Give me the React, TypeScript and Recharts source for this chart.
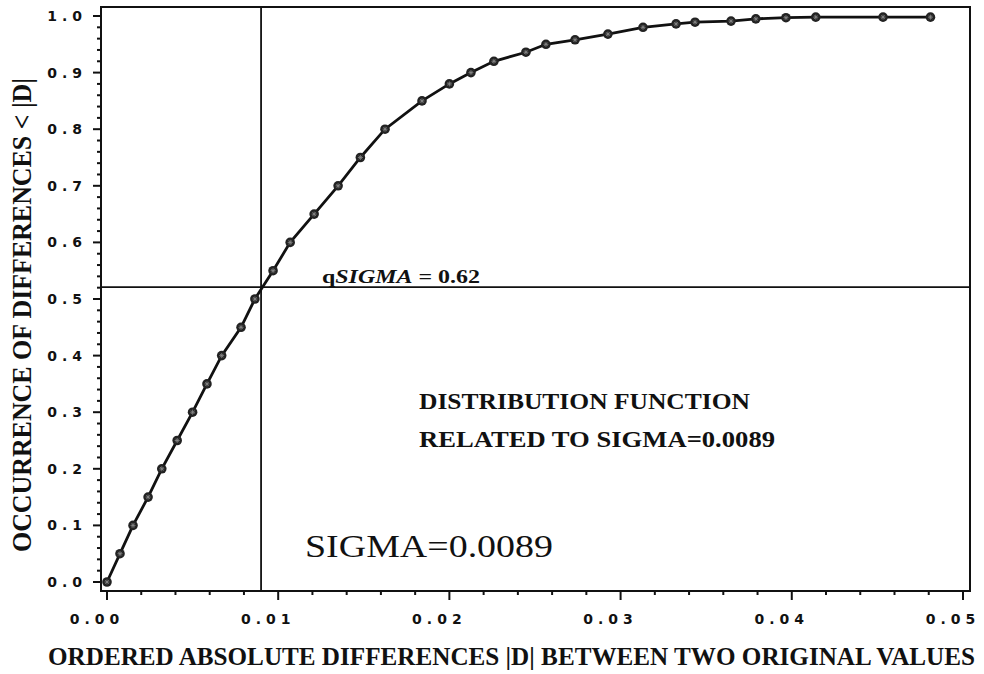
import { ComposedChart, Line, XAxis, YAxis, ReferenceLine, ReferenceArea, Customized } from 'recharts'

// ordered absolute differences |D| and their cumulative occurrence
const diffs = [0, 0.00076, 0.00152, 0.0024, 0.0032, 0.0041, 0.005, 0.00584, 0.0067, 0.00783, 0.00864, 0.0097, 0.0107, 0.0121, 0.0135, 0.0148, 0.01624, 0.0184, 0.02, 0.02126, 0.0226, 0.02447, 0.02564, 0.02734, 0.02926, 0.03131, 0.03324, 0.03435, 0.03645, 0.0379, 0.03966, 0.0414, 0.04533, 0.0481]
const occurrence = [0, 0.05, 0.1, 0.15, 0.2, 0.25, 0.3, 0.35, 0.4, 0.45, 0.5, 0.55, 0.6, 0.65, 0.7, 0.75, 0.8, 0.85, 0.88, 0.9, 0.92, 0.936, 0.95, 0.958, 0.968, 0.98, 0.986, 0.989, 0.991, 0.995, 0.997, 0.998, 0.998, 0.998]

const xMajor = [0, 0.01, 0.02, 0.03, 0.04, 0.05]
const xTickLabels = ['0.00', '0.01', '0.02', '0.03', '0.04', '0.05']
const yMajor = [0, 0.1, 0.2, 0.3, 0.4, 0.5, 0.6, 0.7, 0.8, 0.9, 1.0]
const yTickLabels = ['0.0', '0.1', '0.2', '0.3', '0.4', '0.5', '0.6', '0.7', '0.8', '0.9', '1.0']

const sigmaX = 0.009
const qSigmaY = 0.521

const xDomain = [-0.00035, 0.05041]
const yDomain = [-0.0159, 1.0159]

// minor ticks: 4 between each pair of majors
const minorsOf = (majors: number[]) => {
  const out: number[] = []
  for (let i = 0; i < majors.length - 1; i++) {
    const step = (majors[i + 1] - majors[i]) / 5
    for (let k = 1; k < 5; k++) out.push(+(majors[i] + step * k).toFixed(5))
  }
  return out
}
const xTicks = [...xMajor, ...minorsOf(xMajor)].sort((a, b) => a - b)
const yTicks = [...yMajor, ...minorsOf(yMajor)].sort((a, b) => a - b)

const data = diffs.map((d, i) => ({ d, occ: occurrence[i] }))

const INK = '#111'
const tickFont = { fontFamily: '"DejaVu Sans", sans-serif', fontWeight: 700, fontSize: 14, letterSpacing: 5 }
const serif = '"Liberation Serif", "DejaVu Serif", serif'

const XTick = (p: any) => {
  const i = xMajor.findIndex(m => Math.abs(m - p.payload.value) < 1e-7)
  return (
    <g>
      <line x1={p.x} x2={p.x} y1={p.y} y2={p.y + (i >= 0 ? 9 : 4)} stroke={INK} strokeWidth={2} />
      {i >= 0 && <text x={p.x - 10} y={p.y + 33} textAnchor="middle" fill={INK} style={tickFont}>{xTickLabels[i]}</text>}
    </g>
  )
}

const YTick = (p: any) => {
  const i = yMajor.findIndex(m => Math.abs(m - p.payload.value) < 1e-7)
  return (
    <g>
      <line x1={p.x} x2={p.x - (i >= 0 ? 8 : 4)} y1={p.y} y2={p.y} stroke={INK} strokeWidth={2} />
      {i >= 0 && <text x={p.x - 14} y={p.y + 5} textAnchor="end" fill={INK} style={tickFont}>{yTickLabels[i]}</text>}
    </g>
  )
}

const StarDot = (p: any) => {
  const { cx, cy } = p
  if (cx == null || cy == null) return null
  return (
    <g>
      <circle cx={cx} cy={cy} r={4.8} fill="#222" />
      <path d={`M${cx - 2.5},${cy} h5 M${cx},${cy - 2.5} v5 M${cx - 1.8},${cy - 1.8} l3.6,3.6 M${cx - 1.8},${cy + 1.8} l3.6,-3.6`} stroke="#8a8a8a" strokeWidth={0.8} />
    </g>
  )
}

const Texts = () => (
  <g fill={INK}>
    <text x={322} y={283} fontFamily={serif} fontWeight={700} fontSize={18} textLength={158} lengthAdjust="spacingAndGlyphs">
      q<tspan fontStyle="italic">SIGMA</tspan> = 0.62
    </text>
    <text x={419} y={409} fontFamily={serif} fontWeight={700} fontSize={23} textLength={331} lengthAdjust="spacingAndGlyphs">DISTRIBUTION FUNCTION</text>
    <text x={419} y={447} fontFamily={serif} fontWeight={700} fontSize={23} textLength={356} lengthAdjust="spacingAndGlyphs">RELATED TO SIGMA=0.0089</text>
    <text x={305} y={557} fontFamily={serif} fontSize={32} textLength={248} lengthAdjust="spacingAndGlyphs">SIGMA=0.0089</text>
    <text x={48} y={665} fontFamily={serif} fontWeight={700} fontSize={25} textLength={927} lengthAdjust="spacingAndGlyphs">ORDERED ABSOLUTE DIFFERENCES |D| BETWEEN TWO ORIGINAL VALUES</text>
    <text x={31} y={315} transform="rotate(-90, 31, 315)" textAnchor="middle" fontFamily={serif} fontWeight={700} fontSize={27} textLength={474} lengthAdjust="spacingAndGlyphs">OCCURRENCE OF DIFFERENCES &lt; |D|</text>
  </g>
)

export default function App() {
  return (
    <div style={{ width: 984, height: 674, background: '#fff' }}>
      <style>{'body{margin:0}'}</style>
      <ComposedChart width={984} height={674} data={data} margin={{ top: 7, right: 14, bottom: 0, left: 41 }}>
        <XAxis dataKey="d" type="number" domain={xDomain} ticks={xTicks} interval={0}
          axisLine={false} tickLine={false} tickSize={0} tickMargin={0} height={83} tick={<XTick />} />
        <YAxis type="number" domain={yDomain} ticks={yTicks} interval={0}
          axisLine={false} tickLine={false} tickSize={0} tickMargin={0} width={60} tick={<YTick />} />
        <ReferenceLine x={sigmaX} stroke={INK} strokeWidth={1.8} />
        <ReferenceLine y={qSigmaY} stroke={INK} strokeWidth={1.6} />
        <Line dataKey="occ" type="linear" stroke={INK} strokeWidth={2.8} dot={<StarDot />} isAnimationActive={false} />
        <ReferenceArea x1={xDomain[0]} x2={xDomain[1]} y1={yDomain[0]} y2={yDomain[1]} fill="none" stroke={INK} strokeWidth={2} />
        <Customized component={Texts} />
      </ComposedChart>
    </div>
  )
}
